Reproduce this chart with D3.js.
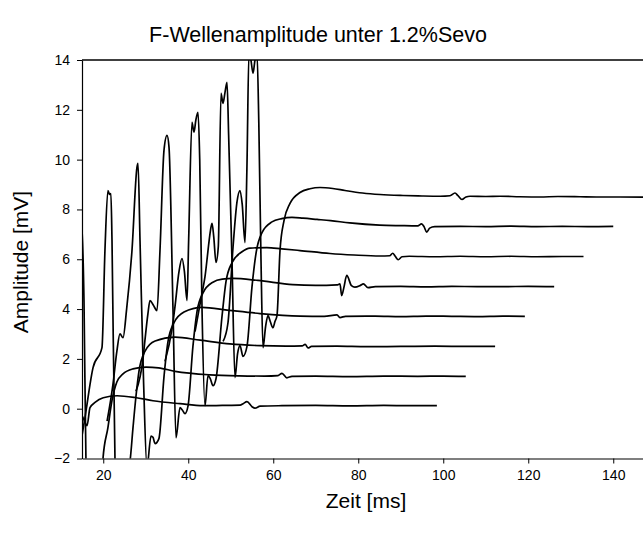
<!DOCTYPE html>
<html><head><meta charset="utf-8">
<script src="https://cdn.jsdelivr.net/npm/d3@7"></script>
<style>body{margin:0;background:#fff}svg{display:block}text{font-family:"Liberation Sans",Arial,sans-serif;fill:#000}</style>
</head><body><svg id="c" width="643" height="533"></svg>
<script>
const title = "F-Wellenamplitude unter 1.2%Sevo";
const xLabel = "Zeit [ms]";
const yLabel = "Amplitude [mV]";
const xTicks = [20, 40, 60, 80, 100, 120, 140];
const yTicks = [-2, 0, 2, 4, 6, 8, 10, 12, 14];
const xDomain = [15, 150];
const yDomain = [-2, 14];

const trace0 = [[14.5,-0.1],[15.0,-0.28],[15.47,-0.45],[16.18,-0.68],[16.88,0.04],[18.06,0.25],[20.0,0.44],[23.24,0.52],[27.5,0.45],[31.7,0.32],[38.06,0.2],[43.5,0.12],[48.0,0.13],[52.2,0.14],[52.9,0.2],[53.82,0.28],[55.0,0.08],[55.7,0.02],[56.9,0.1],[62.0,0.12],[70.0,0.13],[78.0,0.11],[86.0,0.13],[92.0,0.12],[98.5,0.12]];
const trace1 = [[13.5,3.0],[14.3,7.2],[14.8,7.7],[15.47,4.3],[15.94,-2.2],[16.65,-4.75],[17.6,-3.5],[18.5,-3.9],[19.5,-3.6],[19.94,-2.0],[21.1,-0.76],[22.06,0.33],[23.2,1.07],[24.65,1.4],[27.0,1.6],[30.06,1.67],[33.0,1.64],[36.9,1.5],[45.1,1.36],[52.0,1.32],[58.0,1.31],[61.1,1.33],[62.06,1.42],[63.2,1.24],[64.4,1.3],[70.0,1.31],[78.0,1.29],[86.0,1.31],[94.0,1.3],[100.0,1.31],[105.3,1.3]];
const trace2 = [[14.5,-1.6],[15.7,-0.36],[17.6,1.65],[19.7,2.45],[20.4,6.35],[21.1,8.76],[21.5,8.6],[21.8,8.64],[22.06,6.75],[22.76,-2.0],[23.47,-3.55],[24.4,-2.3],[25.35,-2.7],[26.3,-2.1],[27.0,-0.76],[27.7,0.5],[28.4,1.5],[29.8,2.3],[32.2,2.72],[36.9,2.87],[42.8,2.75],[49.8,2.6],[56.9,2.53],[63.0,2.51],[66.8,2.52],[67.5,2.58],[68.2,2.44],[69.0,2.5],[75.0,2.51],[82.0,2.49],[90.0,2.5],[98.0,2.51],[106.0,2.5],[112.2,2.5]];
const trace3 = [[20.9,-0.5],[22.3,1.0],[23.2,2.3],[23.94,3.0],[24.65,2.85],[25.5,4.0],[26.76,6.35],[27.94,9.7],[28.18,9.85],[28.65,6.75],[29.5,1.0],[30.29,-2.34],[31.24,-1.1],[31.7,-1.15],[32.18,-1.4],[33.1,-1.2],[34.3,1.3],[35.24,2.7],[36.65,3.45],[39.0,3.88],[43.24,4.07],[49.6,3.95],[56.9,3.82],[66.3,3.72],[72.0,3.71],[75.0,3.77],[75.7,3.66],[77.0,3.71],[84.0,3.72],[90.0,3.7],[96.0,3.72],[102.0,3.71],[108.0,3.7],[114.0,3.72],[119.2,3.71]];
const trace4 = [[27.7,0.7],[29.35,2.0],[29.8,2.73],[30.5,3.8],[31.0,4.34],[31.8,4.15],[32.65,3.94],[33.35,6.35],[34.29,10.37],[35.0,10.97],[35.47,10.5],[36.41,4.0],[37.12,-1.17],[38.06,0.04],[38.6,-0.05],[39.24,-0.2],[39.94,0.1],[41.1,2.5],[42.06,3.9],[43.47,4.65],[45.8,5.08],[48.0,5.2],[50.5,5.23],[56.4,5.15],[64.6,4.98],[70.0,4.95],[75.0,4.97],[75.7,5.01],[76.1,4.54],[76.6,4.85],[77.3,5.35],[78.4,4.94],[79.2,4.88],[80.5,4.95],[81.2,5.01],[82.3,4.86],[84.0,4.9],[90.0,4.91],[96.0,4.89],[102.0,4.91],[108.0,4.9],[114.0,4.9],[120.0,4.91],[126.1,4.9]];
const trace5 = [[34.53,1.9],[36.18,3.2],[36.88,4.1],[37.82,5.5],[38.53,6.03],[39.1,5.5],[39.71,4.34],[40.1,6.8],[40.88,11.5],[41.35,11.1],[41.8,11.6],[42.29,11.9],[42.7,10.0],[43.24,4.0],[43.94,0.12],[44.65,1.33],[45.2,1.2],[45.82,0.92],[46.53,1.2],[47.94,3.7],[48.88,5.1],[50.29,5.86],[52.65,6.3],[54.5,6.45],[58.5,6.47],[62.0,6.42],[66.3,6.35],[73.35,6.23],[79.0,6.17],[85.1,6.13],[87.4,6.14],[88.1,6.24],[88.7,6.12],[89.4,5.98],[90.3,6.1],[92.0,6.12],[98.0,6.1],[104.0,6.12],[110.0,6.1],[116.0,6.12],[122.0,6.1],[128.0,6.11],[133.0,6.11]];
const trace6 = [[41.6,3.1],[43.2,4.6],[43.94,5.3],[44.88,6.7],[45.12,7.03],[45.59,7.44],[46.0,6.9],[46.53,5.87],[47.07,6.5],[47.71,12.66],[48.18,12.26],[48.65,12.7],[49.12,13.1],[49.5,11.0],[50.29,5.95],[51.0,1.25],[51.6,2.2],[52.18,2.53],[52.88,2.1],[53.82,2.5],[55.0,4.9],[56.0,6.3],[57.35,7.07],[59.7,7.5],[62.0,7.63],[64.4,7.68],[67.0,7.65],[70.3,7.6],[73.5,7.55],[78.0,7.46],[85.0,7.37],[90.0,7.35],[94.0,7.34],[94.9,7.42],[95.5,7.3],[96.1,7.09],[96.8,7.25],[98.0,7.31],[104.0,7.32],[110.0,7.31],[116.0,7.33],[122.0,7.31],[128.0,7.32],[134.0,7.31],[140.0,7.32]];
const trace7 = [[48.2,2.7],[49.35,3.45],[50.53,6.47],[51.47,8.3],[52.18,8.76],[52.7,8.2],[53.35,6.67],[53.8,9.6],[54.29,14.3],[54.75,14.0],[55.24,13.47],[55.7,14.0],[56.18,14.25],[56.6,11.5],[57.12,5.95],[57.59,2.45],[58.2,3.3],[58.76,3.74],[59.3,3.5],[59.94,3.25],[60.4,3.5],[60.88,3.74],[61.59,6.35],[62.53,7.55],[63.94,8.24],[66.29,8.68],[68.65,8.83],[71.0,8.88],[74.0,8.84],[76.88,8.76],[81.0,8.66],[85.12,8.6],[90.53,8.56],[95.0,8.54],[99.24,8.53],[101.6,8.55],[102.76,8.66],[103.47,8.55],[104.41,8.40],[105.35,8.5],[106.3,8.53],[110.0,8.52],[113.35,8.53],[118.0,8.51],[122.76,8.5],[127.0,8.52],[132.2,8.51],[136.0,8.5],[141.6,8.5],[147.5,8.49]];
const traces = [trace0, trace1, trace2, trace3, trace4, trace5, trace6, trace7];

const svg = d3.select("#c");
const L = 82, T = 60, B = 458.5;
const x = d3.scaleLinear().domain(xDomain).range([L, L + (xDomain[1]-xDomain[0]) * 4.25]);
const y = d3.scaleLinear().domain(yDomain).range([B, T]);
const R = x.range()[1];

svg.append("defs").append("clipPath").attr("id","clip")
  .append("rect").attr("x", L).attr("y", T).attr("width", R - L).attr("height", B - T);

const line = d3.line().x(d => x(d[0])).y(d => y(d[1])).curve(d3.curveMonotoneX);
svg.append("g").attr("clip-path","url(#clip)").selectAll("path").data(traces).join("path")
  .attr("d", line).attr("fill","none").attr("stroke","#000").attr("stroke-width",1.7)
  .attr("stroke-linejoin","round");

// frame top
svg.append("line").attr("x1", L).attr("x2", R).attr("y1", T).attr("y2", T)
  .attr("stroke","#000").attr("stroke-width",1.5);

const xAxis = svg.append("g").attr("transform", `translate(0,${B})`)
  .call(d3.axisBottom(x).tickValues(xTicks).tickSize(5).tickPadding(7).tickSizeOuter(0));
const yAxis = svg.append("g").attr("transform", `translate(${L},0)`)
  .call(d3.axisLeft(y).tickValues(yTicks).tickSize(5).tickPadding(7).tickSizeOuter(0));
[xAxis, yAxis].forEach(g => {
  g.select(".domain").attr("stroke","#000").attr("stroke-width",1.2);
  g.selectAll(".tick line").attr("stroke","#000");
  g.selectAll("text").style("font-family",'"Liberation Sans",Arial,sans-serif').style("font-size","14px").attr("fill","#000");
});

svg.append("text").attr("x", 318).attr("y", 42).attr("text-anchor","middle")
  .style("font-size","21.5px").text(title);
svg.append("text").attr("x", 366).attr("y", 508).attr("text-anchor","middle")
  .style("font-size","21px").text(xLabel);
svg.append("text").attr("transform","translate(28,262) rotate(-90)").attr("text-anchor","middle")
  .style("font-size","21px").text(yLabel);
</script></body></html>
